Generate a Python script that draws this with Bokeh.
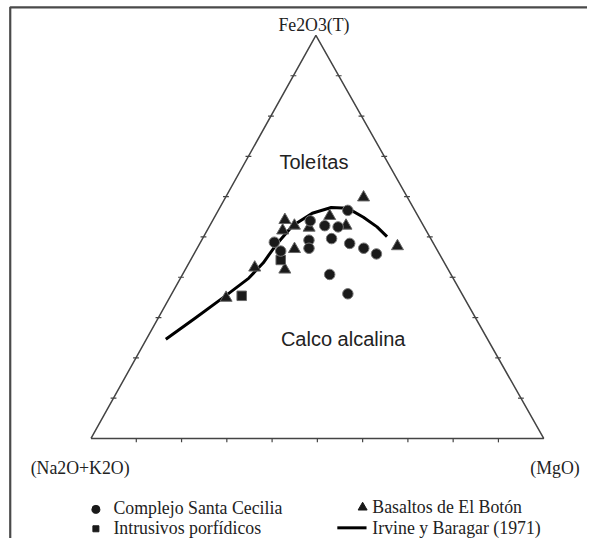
from bokeh.plotting import figure
from bokeh.models import Range1d
from bokeh.core.properties import value
from bokeh.embed import file_html
from bokeh.resources import INLINE
import numpy as np

# ---- data: ternary compositions in % (Fe2O3(T), Na2O+K2O, MgO) ----
cecilia_F = [56.6, 54.0, 52.8, 52.5, 48.7, 49.6, 49.2, 47.2, 46.5, 48.4, 47.2, 45.8, 40.7, 35.9]
cecilia_A = [14.8, 24.4, 21.8, 19.0, 35.0, 21.9, 27.1, 28.1, 34.7, 18.5, 16.0, 13.9, 26.8, 25.2]
cecilia_M = [28.6, 21.6, 25.4, 28.5, 16.3, 28.5, 23.7, 24.7, 18.8, 33.1, 36.8, 40.3, 32.5, 38.9]

boton_F = [59.8, 54.2, 55.2, 52.8, 52.8, 52.3, 51.6, 47.0, 42.4, 41.9, 47.7, 34.9]
boton_A = [9.7, 29.9, 19.5, 28.5, 17.1, 25.5, 31.7, 31.4, 42.5, 36.1, 8.3, 52.6]
boton_M = [30.5, 15.9, 25.3, 18.7, 30.1, 22.2, 16.7, 21.6, 15.1, 22.0, 44.0, 12.5]

intrus_F = [44.3, 35.4]
intrus_A = [35.8, 48.9]
intrus_M = [19.9, 15.7]

irvine_F = [24.6, 29.9, 35.2, 39.8, 43.6, 48.0, 52.8, 55.9, 57.3, 57.1, 54.9, 52.5, 50.1]
irvine_A = [71.1, 61.9, 52.8, 45.1, 40.0, 35.0, 28.9, 23.0, 18.1, 14.5, 12.2, 10.4, 9.4]
irvine_M = [4.3, 8.2, 12.0, 15.1, 16.4, 17.0, 18.3, 21.1, 24.6, 28.4, 32.9, 37.1, 40.5]

apex_labels = ["Fe2O3(T)", "(Na2O+K2O)", "(MgO)"]
field_labels = ["Toleítas", "Calco alcalina"]
legend_labels = ["Complejo Santa Cecilia", "Intrusivos porfídicos",
                 "Basaltos de El Botón", "Irvine y Baragar (1971)"]

# ---- layout (vertex positions in plot units) ----
VA = (93.0, 451.0)   # Na2O+K2O
VF = (324.0, 36.0)   # Fe2O3(T)
VM = (558.0, 451.0)  # MgO


def tern(F, A, M):
    F = np.asarray(F, float); A = np.asarray(A, float); M = np.asarray(M, float)
    s = F + A + M
    f, a, m = F / s, A / s, M / s
    x = a * VA[0] + f * VF[0] + m * VM[0]
    y = a * VA[1] + f * VF[1] + m * VM[1]
    return x, y


p = figure(width=587, height=538, output_backend="svg", toolbar_location=None,
           x_range=Range1d(0, 603), y_range=Range1d(554, 0),
           min_border=0)
p.axis.visible = False
p.grid.visible = False
p.outline_line_color = None
p.background_fill_color = "white"

# frame (top and left)
p.line([10, 10, 603], [554, 7, 7], line_color="#4a4a4a", line_width=2.2)

# triangle
p.line([VA[0], VF[0], VM[0], VA[0]], [VA[1], VF[1], VM[1], VA[1]],
       line_color="#444444", line_width=1.5)

# ticks every 10 %
tx0, ty0, tx1, ty1 = [], [], [], []
for k in range(1, 10):
    t = k / 10
    bx = VA[0] + t * (VM[0] - VA[0])
    tx0.append(bx); ty0.append(VA[1]); tx1.append(bx); ty1.append(VA[1] + 4)
    lx = VA[0] + t * (VF[0] - VA[0]); ly = VA[1] + t * (VF[1] - VA[1])
    tx0.append(lx - 3); ty0.append(ly); tx1.append(lx + 3); ty1.append(ly)
    rx = VM[0] + t * (VF[0] - VM[0]); ry = VM[1] + t * (VF[1] - VM[1])
    tx0.append(rx - 3); ty0.append(ry); tx1.append(rx + 3); ty1.append(ry)
p.segment(tx0, ty0, tx1, ty1, line_color="#444444", line_width=1.2)

# Irvine & Baragar line
ix, iy = tern(irvine_F, irvine_A, irvine_M)
p.line(ix, iy, line_color="black", line_width=3, line_join="round")

# data points
cx, cy = tern(cecilia_F, cecilia_A, cecilia_M)
bx_, by_ = tern(boton_F, boton_A, boton_M)
sx, sy = tern(intrus_F, intrus_A, intrus_M)
p.scatter(bx_, by_, marker="triangle", size=12, fill_color="#1a1a1a", line_color="#666666", line_width=1)
p.scatter(sx, sy, marker="square", size=9.5, fill_color="#1a1a1a", line_color="#666666", line_width=1)
p.scatter(cx, cy, marker="circle", size=10.5, fill_color="#1a1a1a", line_color="#777777", line_width=1)

serif = value("Liberation Serif")
sans = value("Liberation Sans")

p.text([322], [25], text=[apex_labels[0]], text_font=serif, text_font_size="17.8px",
       text_align="center", text_baseline="middle", text_color="#222222")
p.text([31], [481], text=[apex_labels[1]], text_font=serif, text_font_size="17.8px",
       text_align="left", text_baseline="middle", text_color="#222222")
p.text([595], [481], text=[apex_labels[2]], text_font=serif, text_font_size="17.8px",
       text_align="right", text_baseline="middle", text_color="#222222")

p.text([322], [166], text=[field_labels[0]], text_font=sans, text_font_size="20px",
       text_align="center", text_baseline="middle", text_color="#222222")
p.text([352], [349], text=[field_labels[1]], text_font=sans, text_font_size="20px",
       text_align="center", text_baseline="middle", text_color="#222222")

# legend
p.scatter([98], [524], marker="circle", size=8, fill_color="#1a1a1a", line_color="#1a1a1a")
p.scatter([98], [544], marker="square", size=6, fill_color="#1a1a1a", line_color="#1a1a1a")
p.scatter([372], [522], marker="triangle", size=9, fill_color="#1a1a1a", line_color="#1a1a1a")
p.line([346, 376], [543, 543], line_color="black", line_width=3)
p.text([116, 116, 382, 382], [523, 543, 522, 543], text=legend_labels, text_font=serif,
       text_font_size="17.8px", text_align="left", text_baseline="middle", text_color="#222222")

open("out.html", "w").write(file_html(p, INLINE))
